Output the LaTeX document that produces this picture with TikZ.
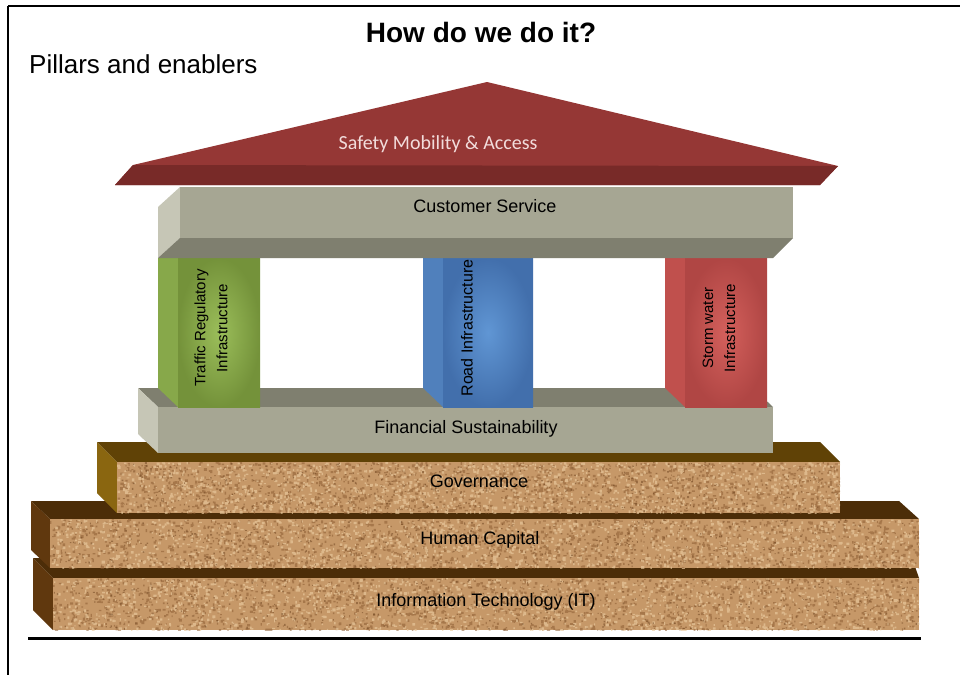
\documentclass[tikz,border=0pt]{standalone}
\usepackage{fontspec}
\setmainfont{Liberation Sans}
\newfontfamily\roofface{Carlito}

% palette
\definecolor{roofred}{RGB}{149,55,53}
\definecolor{roofdark}{RGB}{120,42,40}
\definecolor{rooftext}{RGB}{242,220,219}
\definecolor{beamfront}{RGB}{166,166,147}
\definecolor{beamside}{RGB}{198,198,182}
\definecolor{beamshade}{RGB}{127,127,111}
\definecolor{greenin}{RGB}{155,190,90}
\definecolor{greenout}{RGB}{116,146,58}
\definecolor{greenside}{RGB}{135,168,74}
\definecolor{bluein}{RGB}{96,150,212}
\definecolor{blueout}{RGB}{66,111,172}
\definecolor{blueside}{RGB}{80,128,188}
\definecolor{redin}{RGB}{212,96,92}
\definecolor{redout}{RGB}{176,70,68}
\definecolor{redside}{RGB}{192,80,77}
\definecolor{corkbase}{RGB}{198,152,104}
\definecolor{corkdark}{RGB}{140,92,50}
\definecolor{corkdeep}{RGB}{110,68,32}
\definecolor{corklight}{RGB}{234,202,158}
\definecolor{govtop}{RGB}{96,66,6}
\definecolor{govside}{RGB}{138,102,16}
\definecolor{basetop}{RGB}{76,45,8}
\definecolor{baseside}{RGB}{96,56,14}

% speckled cork front face of a base slab: x0, y0, x1, y1
\newcommand\corkslab[4]{%
  \begin{scope}
    \clip (#1,#2) rectangle (#3,#4);
    \fill[corkbase] (#1,#2) rectangle (#3,#4);
    \fill[corkdark,opacity=.55] \foreach \k in {1,...,1500}{
      ({#1+rnd*(#3-#1)},{#2+rnd*(#4-#2)}) rectangle ++({1+rnd*2.2},{1+rnd*2})};
    \fill[corklight,opacity=.65] \foreach \k in {1,...,1500}{
      ({#1+rnd*(#3-#1)},{#2+rnd*(#4-#2)}) rectangle ++({1+rnd*2.2},{1+rnd*2})};
    \fill[corkdeep,opacity=.5] \foreach \k in {1,...,500}{
      ({#1+rnd*(#3-#1)},{#2+rnd*(#4-#2)}) rectangle ++({0.8+rnd*1.2},{0.8+rnd*1.2})};
  \end{scope}}

\begin{document}
\begin{tikzpicture}[x=1pt,y=-1pt,
  label18/.style={font=\fontsize{18}{22}\selectfont, text=black, inner sep=0pt, anchor=base},
  pillartext/.style={font=\fontsize{15}{22}\selectfont, text=black, align=center, rotate=90, inner sep=0pt},
  frameline/.style={line width=2.6pt, black}]
\useasboundingbox (0,0) rectangle (960,675);
\fill[white] (0,0) rectangle (960,675);
\pgfmathsetseed{7}

% ---- base slabs (back to front) ----
% Information Technology
\fill[basetop] (33,558) -- (912,558) -- (919,578) -- (53,578) -- cycle;
\fill[baseside] (33,558) -- (53,578) -- (53,630) -- (33,610) -- cycle;
\corkslab{53}{578}{919}{630}
% Human Capital
\fill[basetop] (31,501) -- (899,501) -- (919,519) -- (50,519) -- cycle;
\fill[baseside] (31,501) -- (50,519) -- (50,568) -- (31,550) -- cycle;
\corkslab{50}{519}{919}{568}
% Governance
\fill[govtop] (97,442) -- (820,442) -- (840,462) -- (117,462) -- cycle;
\fill[govside] (97,442) -- (117,462) -- (117,513) -- (97,493) -- cycle;
\corkslab{117}{462}{840}{513}

% ---- Financial Sustainability beam ----
\fill[beamshade] (138,388) -- (753,388) -- (773,407) -- (158,407) -- cycle;
\fill[beamside] (138,388) -- (158,407) -- (158,453) -- (138,434) -- cycle;
\fill[beamfront] (158,407) rectangle (773,453);

% ---- pillars ----
\fill[greenside] (158,258) -- (178,258) -- (178,407) -- (158,388) -- cycle;
\shade[inner color=greenin, outer color=greenout] (178,258) rectangle (260,407);
\fill[blueside] (423,258) -- (443,258) -- (443,407) -- (423,388) -- cycle;
\shade[inner color=bluein, outer color=blueout] (443,258) rectangle (533,407);
\fill[redside] (665,258) -- (685,258) -- (685,407) -- (665,388) -- cycle;
\shade[inner color=redin, outer color=redout] (685,258) rectangle (767,407);

% ---- Customer Service beam ----
\fill[beamside] (158,207) -- (180,187) -- (180,238) -- (158,258) -- cycle;
\fill[beamshade] (158,258) -- (180,238) -- (793,238) -- (773,258) -- cycle;
\fill[beamfront] (180,187) rectangle (793,238);

% ---- roof ----
\fill[roofred] (487,82) -- (838,166) -- (820,185) -- (115,185) -- (133,165) -- cycle;
\fill[roofdark] (133,165) -- (838,166) -- (820,185) -- (115,185) -- cycle;

% ---- labels ----
\node[font=\bfseries\fontsize{28}{32}\selectfont, anchor=base, inner sep=0pt] (title) at (481,42) {How do we do it?};
\node[font=\fontsize{26}{30}\selectfont, anchor=base west, inner sep=0pt] (subtitle) at (29,73) {Pillars and enablers};
\node[font=\roofface\fontsize{20}{24}\selectfont, text=rooftext, anchor=base, inner sep=0pt] (roofText) at (438,149.5) {Safety Mobility \& Access};
\node[label18] (customer) at (485,212) {Customer Service};
\node[label18] (financial) at (466,433.5) {Financial Sustainability};
\node[label18] (governance) at (479,487.5) {Governance};
\node[label18] (human) at (480,544.5) {Human Capital};
\node[label18] (itlayer) at (486,606.5) {Information Technology (IT)};
\node[pillartext] (traffic) at (211,328) {Traffic Regulatory\\Infrastructure};
\node[pillartext, font=\fontsize{16}{22}\selectfont] (road) at (467,328) {Road Infrastructure};
\node[pillartext] (storm) at (719,328) {Storm water\\Infrastructure};

% ---- frame ----
\draw[frameline] (8,6) -- (960,6);
\draw[frameline] (8,6) -- (8,675);
\draw[line width=3pt] (28,638) -- (921,638);
\end{tikzpicture}
\end{document}
